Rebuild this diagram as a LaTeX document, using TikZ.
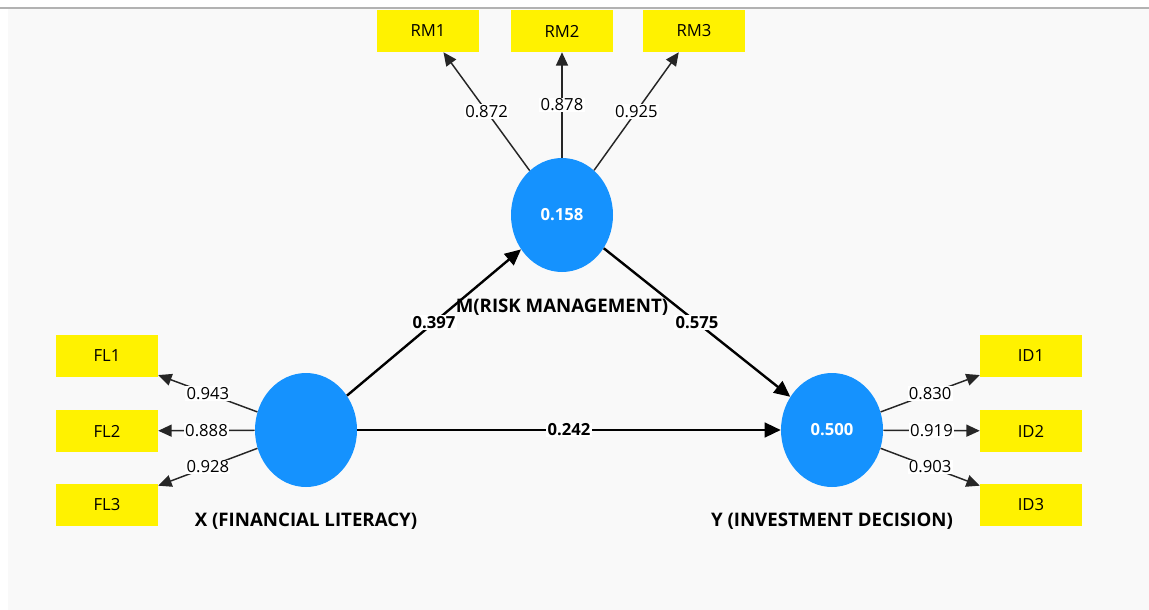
\documentclass[tikz,border=0pt]{standalone}
\usepackage{fontspec}
\setmainfont{Open Sans}
\usetikzlibrary{shapes.geometric,arrows.meta}
\definecolor{latentblue}{HTML}{1592FE}
\definecolor{panelgray}{HTML}{F9F9F9}

\begin{document}
\begin{tikzpicture}[x=0.75pt,y=-0.75pt,
    indicator/.style={rectangle, fill=yellow, minimum width=76.5pt, minimum height=31.5pt, inner sep=0pt, font=\fontsize{12.5}{14}\selectfont},
    latent/.style={ellipse, fill=latentblue, minimum width=76.5pt, minimum height=85.5pt, inner sep=0pt, text=white, font=\bfseries\fontsize{12.5}{14}\selectfont},
    latentlab/.style={font=\bfseries\fontsize{14}{16}\selectfont},
    loading/.style={draw=black!85, line width=1.1pt, -{Triangle[length=10pt,width=9pt]}},
    structural/.style={draw=black, line width=1.8pt, -{Triangle[length=12pt,width=11pt]}},
    coef/.style={fill=white, inner sep=1pt, font=\fontsize{12.5}{14}\selectfont},
    pathcoef/.style={coef, font=\bfseries\fontsize{12.5}{14}\selectfont}]
    \useasboundingbox (0,0) rectangle (1149,610);

    % Draw the panel
    \fill[white] (0,0) rectangle (1149,610);
    \fill[panelgray] (8,9) rectangle (1149,610);
    \draw[black!30, line width=1.5pt] (0,8) -- (1149,8);

    % Latent variables
    \node[latent] (M) at (562,215) {0.158};
    \node[latent] (X) at (306,430) {};
    \node[latent] (Y) at (832,430) {0.500};

    \node[latentlab] (Mcap) at (562,307) {M(RISK MANAGEMENT)};
    \node[latentlab] (Xcap) at (306,521) {X (FINANCIAL LITERACY)};
    \node[latentlab] (Ycap) at (832,521) {Y (INVESTMENT DECISION)};

    % Indicators
    \foreach \n/\x in {1/428,2/562,3/694}
        \node[indicator] (RM\n) at (\x,31) {RM\n};
    \foreach \n/\y in {1/356,2/431,3/505} {
        \node[indicator] (FL\n) at (107,\y) {FL\n};
        \node[indicator] (ID\n) at (1031,\y) {ID\n};
    }

    % Outer loadings
    \foreach \n/\v in {1/0.872,2/0.878,3/0.925}
        \draw[loading] (M) -- node[coef] {\v} (RM\n);
    \foreach \n/\v in {1/0.943,2/0.888,3/0.928}
        \draw[loading] (X) -- node[coef] {\v} (FL\n);
    \foreach \n/\v in {1/0.830,2/0.919,3/0.903}
        \draw[loading] (Y) -- node[coef] {\v} (ID\n);

    % Path coefficients
    \draw[structural] (X) -- node[pathcoef] {0.397} (M);
    \draw[structural] (M) -- node[pathcoef] {0.575} (Y);
    \draw[structural] (X) -- node[pathcoef] {0.242} (Y);

\end{tikzpicture}
\end{document}
